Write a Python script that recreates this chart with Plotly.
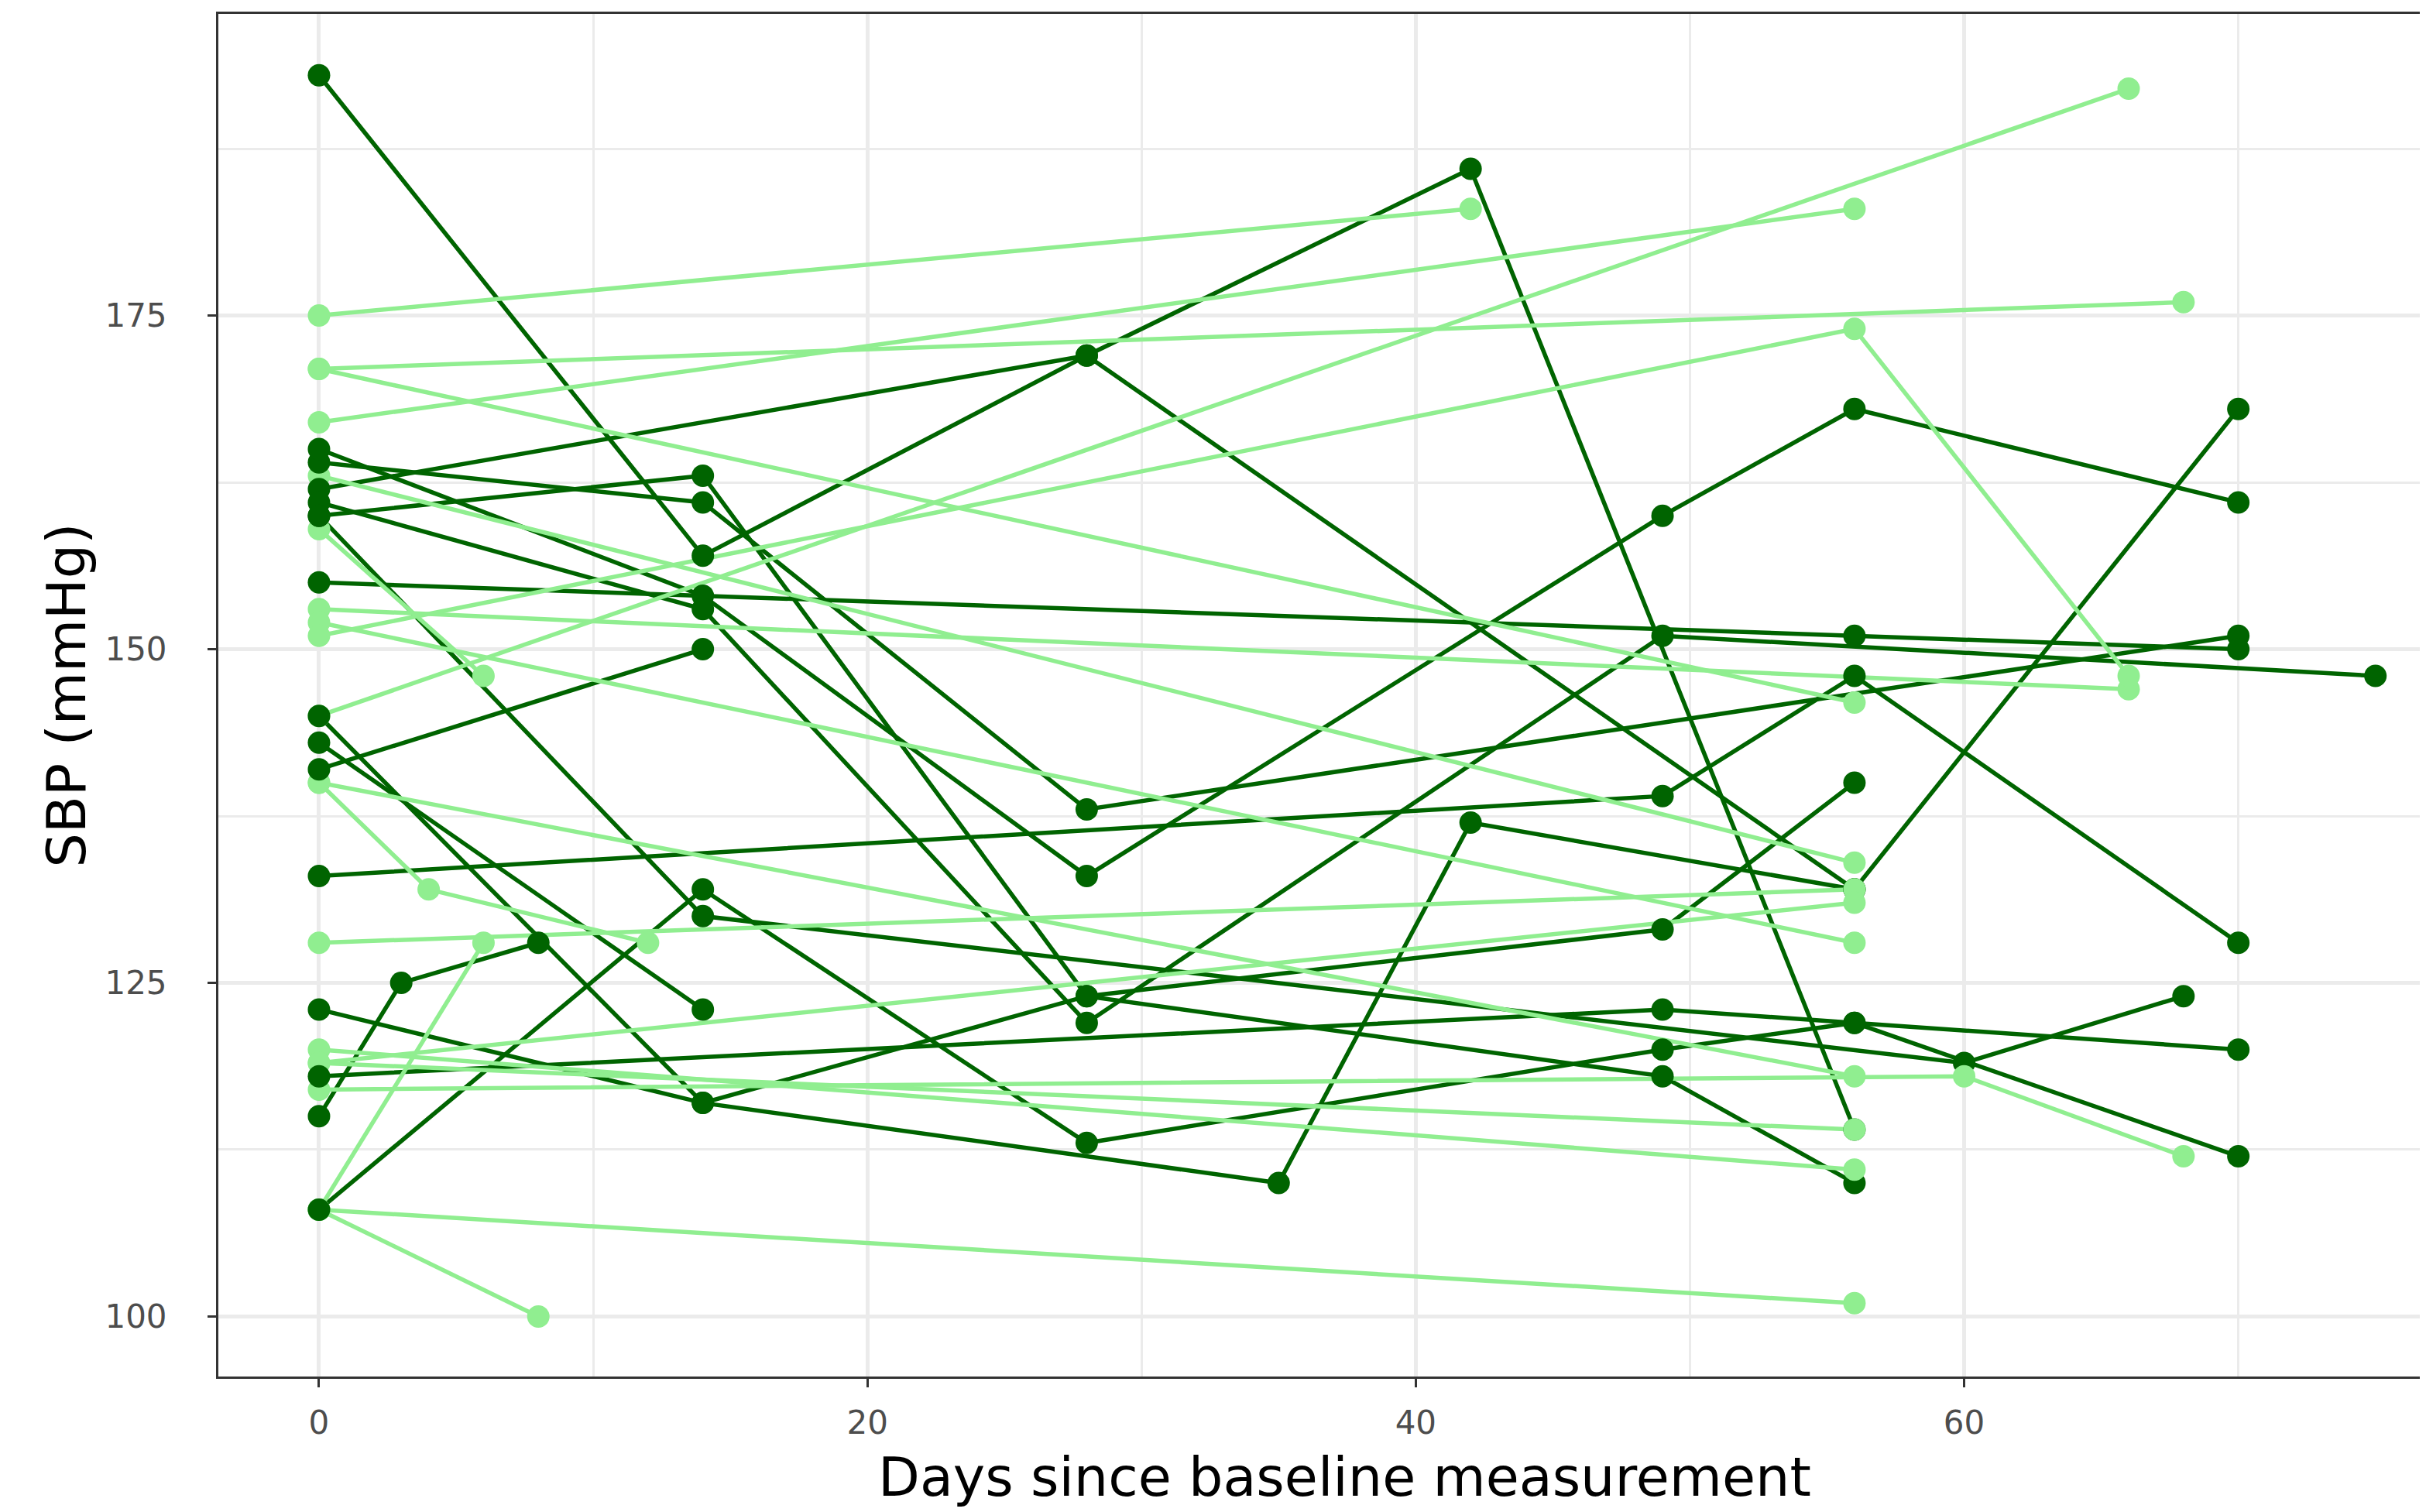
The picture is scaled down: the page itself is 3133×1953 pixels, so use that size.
import plotly.graph_objects as go

# ---- data: one list of visit days and one list of SBP values per subject ----
dark_days = [
    [0, 14, 28, 56, 70],
    [0, 28, 42, 56],
    [0, 14, 28, 70],
    [0, 14, 28, 49, 56],
    [0, 14, 28, 49, 56, 70],
    [0, 14, 28, 49, 75],
    [0, 56, 70],
    [0, 14, 28, 49, 56],
    [0, 14],
    [0, 14],
    [0, 49, 56, 70],
    [0, 14, 35, 42, 56],
    [0, 49, 56, 70],
    [0, 3, 8],
    [0, 14, 28, 49, 56, 70],
    [0, 14, 60, 68],
]
dark_sbp = [
    [193, 157, 172, 132, 168],
    [162, 172, 186, 114],
    [164, 161, 138, 151],
    [160, 163, 124, 129, 140],
    [165, 154, 133, 160, 168, 161],
    [161, 153, 122, 151, 148],
    [155, 151, 150],
    [145, 116, 124, 118, 110],
    [143, 123],
    [141, 150],
    [133, 139, 148, 128],
    [123, 116, 110, 137, 132],
    [118, 123, 122, 120],
    [115, 125, 128],
    [108, 132, 113, 120, 122, 112],
    [160, 130, 119, 124],
]

light_days = [
    [0, 42],
    [0, 68],
    [0, 56],
    [0, 56],
    [0, 56],
    [0, 6],
    [0, 66],
    [0, 66],
    [0, 56],
    [0, 56, 66],
    [0, 4, 12],
    [0, 56],
    [0, 56],
    [0, 56],
    [0, 56],
    [0, 56],
    [0, 60, 68],
    [0, 6],
    [0, 8],
    [0, 56],
]
light_sbp = [
    [175, 183],
    [171, 176],
    [167, 183],
    [171, 146],
    [163, 134],
    [159, 148],
    [145, 192],
    [153, 147],
    [152, 128],
    [151, 174, 148],
    [140, 132, 128],
    [140, 118],
    [128, 132],
    [120, 111],
    [119, 114],
    [119, 131],
    [117, 118, 112],
    [108, 128],
    [108, 100],
    [108, 101],
]

x_ticks = [0, 20, 40, 60]
x_minor = [10, 30, 50, 70]
y_ticks = [100, 125, 150, 175]
y_minor = [112.5, 137.5, 162.5, 187.5]

x_title = "Days since baseline measurement"
y_title = "SBP (mmHg)"

DARK = "#006400"
LIGHT = "#90EE90"
LW = 5.5
MS = 29

fig = go.Figure()

# lines (dark first, light drawn on top)
for days, vals in zip(dark_days, dark_sbp):
    fig.add_trace(go.Scatter(x=days, y=vals, mode="lines",
                             line=dict(color=DARK, width=LW),
                             showlegend=False, hoverinfo="skip"))
for days, vals in zip(light_days, light_sbp):
    fig.add_trace(go.Scatter(x=days, y=vals, mode="lines",
                             line=dict(color=LIGHT, width=LW),
                             showlegend=False, hoverinfo="skip"))


def split(days_list, vals_list, baseline):
    xs, ys = [], []
    for days, vals in zip(days_list, vals_list):
        for d, v in zip(days, vals):
            if (d == 0) == baseline:
                xs.append(d)
                ys.append(v)
    return xs, ys


# points: baseline light, baseline dark, follow-up dark, follow-up light
for dl, vl, col, base in [
    (light_days, light_sbp, LIGHT, True),
    (dark_days, dark_sbp, DARK, True),
    (dark_days, dark_sbp, DARK, False),
    (light_days, light_sbp, LIGHT, False),
]:
    xs, ys = split(dl, vl, base)
    fig.add_trace(go.Scatter(x=xs, y=ys, mode="markers",
                             marker=dict(color=col, size=MS, line=dict(width=0)),
                             showlegend=False, hoverinfo="skip"))

GRID = "#EBEBEB"
AX = "#333333"
TICKFONT = dict(family="DejaVu Sans", size=42, color="#4D4D4D")
TITLEFONT = dict(family="DejaVu Sans", size=70, color="black")

fig.update_layout(
    width=3133, height=1953,
    margin=dict(l=274, r=0, t=10, b=183, autoexpand=False),
    paper_bgcolor="white", plot_bgcolor="white",
    font=dict(family="DejaVu Sans"),
    xaxis=dict(
        range=[-3.67, 77.07], tickvals=x_ticks, ticktext=[str(t) for t in x_ticks],
        ticks="outside", ticklen=11, tickwidth=3, tickcolor=AX,
        tickfont=TICKFONT, ticklabelstandoff=10, automargin=False,
        showgrid=True, gridcolor=GRID, gridwidth=4.5,
        minor=dict(tickvals=x_minor, showgrid=True, gridcolor=GRID, gridwidth=2.5, ticks=""),
        showline=True, linecolor=AX, linewidth=3, mirror=True, zeroline=False,
    ),
    yaxis=dict(
        range=[95.5, 197.6], tickvals=y_ticks, ticktext=[str(t) for t in y_ticks],
        ticks="outside", ticklen=11, tickwidth=3, tickcolor=AX,
        tickfont=TICKFONT, ticklabelstandoff=44, automargin=False,
        showgrid=True, gridcolor=GRID, gridwidth=4.5,
        minor=dict(tickvals=y_minor, showgrid=True, gridcolor=GRID, gridwidth=2.5, ticks=""),
        showline=True, linecolor=AX, linewidth=3, mirror=False, zeroline=False,
        title=dict(text=y_title, font=TITLEFONT, standoff=2),
    ),
    annotations=[dict(
        text=x_title, font=TITLEFONT, showarrow=False,
        xref="paper", yref="paper", x=0.5086, y=-0.0738,
        xanchor="center", yanchor="middle",
    )],
)

fig.write_html("out.html")
